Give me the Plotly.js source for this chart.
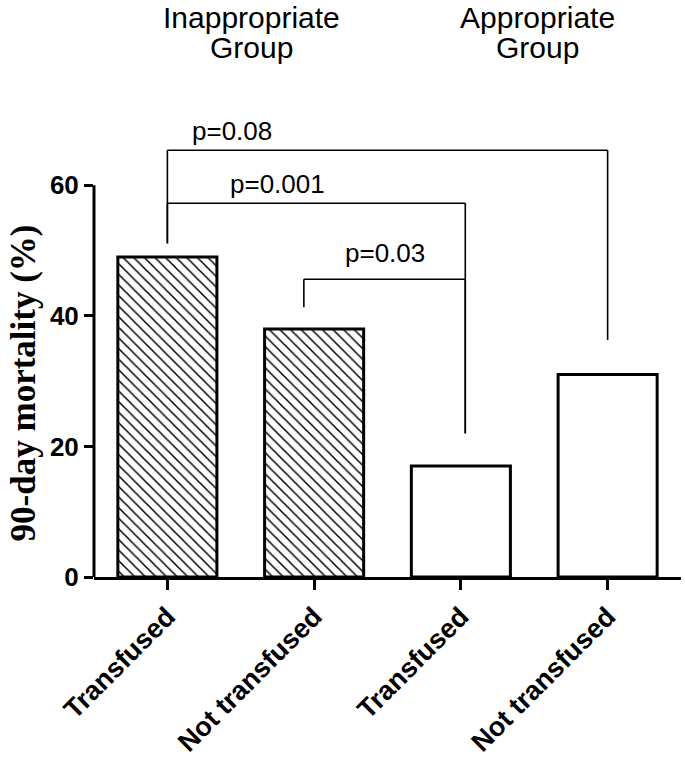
<!DOCTYPE html>
<html>
<head>
<meta charset="utf-8">
<script src="https://cdn.plot.ly/plotly-3.0.1.min.js"></script>
<style>html,body{margin:0;padding:0;background:#fff;}#chart{width:685px;height:757px;}</style>
</head>
<body>
<div id="chart"></div>
<script>
// ---- data ----
const categories = ["Transfused", "Not transfused", "Transfused", "Not transfused"];
const mortality = [49, 38, 17, 31];
const hatched = [true, true, false, false];
const groupLabels = ["Inappropriate", "Appropriate"];
const pValues = ["p=0.08", "p=0.001", "p=0.03"];
const yTicks = [0, 20, 40, 60];
const yTitle = "90-day mortality (%)";

const trace = {
  type: "bar",
  x: [0, 1, 2, 3],
  y: mortality,
  width: 0.675,
  marker: {
    color: "white",
    line: {color: "black", width: 3},
    pattern: {
      shape: hatched.map(h => h ? "\\" : ""),
      fgcolor: "black",
      bgcolor: "white",
      size: 7.5,
      solidity: 0.2
    }
  },
  hoverinfo: "skip"
};

function bracketLines(x0, x1, yTop, yL, yR) {
  const st = {type: "line", xref: "x", yref: "y", line: {color: "black", width: 1.6}};
  return [
    Object.assign({x0: x0, x1: x0, y0: yL, y1: yTop}, st),
    Object.assign({x0: x0, x1: x1, y0: yTop, y1: yTop}, st),
    Object.assign({x0: x1, x1: x1, y0: yTop, y1: yR}, st)
  ];
}

const shapes = [
  // y axis line (only up to 60)
  {type: "line", xref: "paper", yref: "y", x0: 0, x1: 0, y0: -0.25, y1: 60, line: {color: "black", width: 3}}
].concat(
  bracketLines(0, 3, 65.36, 51.1, 36.3),
  bracketLines(0, 2.03, 57.25, 51.1, 22.0),
  bracketLines(0.93, 2.03, 45.6, 41.3, 22.0)
);

const sansFont = "Liberation Sans, Arial, sans-serif";
function lab(text, x, y, size, xref, yref) {
  return {text: text, x: x, y: y, xref: xref, yref: yref, xanchor: "center", yanchor: "middle",
          showarrow: false, font: {family: sansFont, size: size, color: "black"}};
}
const annotations = [
  lab(groupLabels[0], 0.269, 1.260, 30, "paper", "paper"),
  lab("Group", 0.269, 1.1926, 30, "paper", "paper"),
  lab(groupLabels[1], 0.756, 1.260, 30, "paper", "paper"),
  lab("Group", 0.756, 1.1926, 30, "paper", "paper"),
  lab(pValues[0], 0.235, 1.0056, 26, "paper", "paper"),
  lab(pValues[1], 0.75, 60.2, 26, "x", "y"),
  lab(pValues[2], 1.48, 49.6, 26, "x", "y"),
  {text: "<b>" + yTitle + "</b>", x: -0.121, y: 29.8, xref: "paper", yref: "y", xanchor: "center", yanchor: "middle",
   showarrow: false, textangle: -90,
   font: {family: "Liberation Serif, Times New Roman, serif", size: 35, color: "black"}}
];

const layout = {
  width: 685, height: 757,
  margin: {l: 94, r: 4, t: 133, b: 180, pad: 0},
  paper_bgcolor: "white", plot_bgcolor: "white",
  showlegend: false,
  xaxis: {
    range: [-0.5, 3.5],
    tickmode: "array", tickvals: [0, 1, 2, 3], ticktext: categories,
    tickangle: -45,
    ticks: "outside", ticklen: 10, tickwidth: 3, tickcolor: "black",
    showline: true, linewidth: 3, linecolor: "black",
    showgrid: false, zeroline: false,
    tickfont: {family: sansFont, size: 27, color: "black", weight: "bold"},
    fixedrange: true
  },
  yaxis: {
    range: [0, 68],
    tickmode: "array", tickvals: yTicks, ticktext: yTicks.map(String),
    ticks: "outside", ticklen: 9, tickwidth: 3, tickcolor: "black",
    showline: false, showgrid: false, zeroline: false,
    tickfont: {family: sansFont, size: 26, color: "black", weight: "bold"},
    fixedrange: true
  },
  shapes: shapes,
  annotations: annotations
};

Plotly.newPlot("chart", [trace], layout, {displayModeBar: false, staticPlot: true});
</script>
</body>
</html>
